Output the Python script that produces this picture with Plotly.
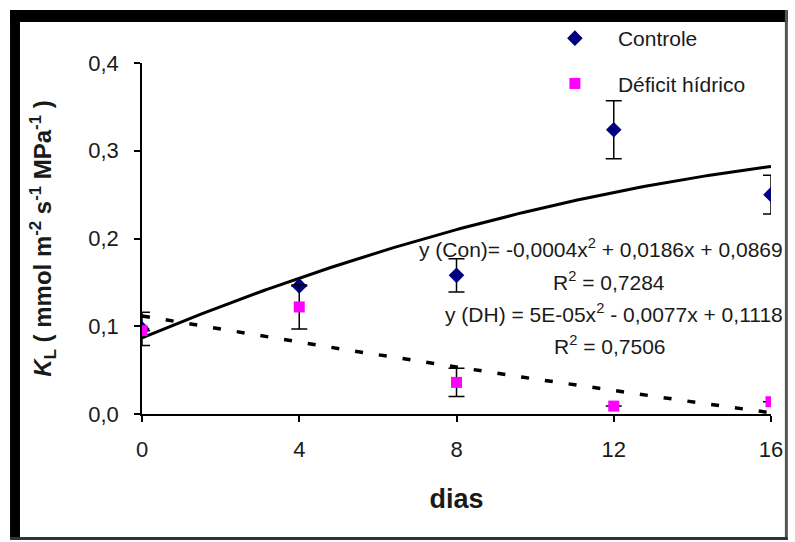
import numpy as np
import plotly.graph_objects as go

# Sampling days
dias = [0, 4, 8, 12, 16]

# Leaf hydraulic conductance, control treatment (mean and error)
kl_controle = [0.097, 0.146, 0.158, 0.324, 0.250]
err_controle = [0.019, 0.0, 0.019, 0.033, 0.022]

# Leaf hydraulic conductance, water deficit treatment (mean and error)
kl_deficit = [0.095, 0.122, 0.036, 0.009, 0.014]
err_deficit = [0.0, 0.025, 0.016, 0.0, 0.0]

# Quadratic trend coefficients (a, b, c) for y = a*x^2 + b*x + c
coef_con = [-0.0004, 0.0186, 0.0869]
coef_dh = [5e-05, -0.0077, 0.1118]

y_ticks = [0.0, 0.1, 0.2, 0.3, 0.4]
y_ticktext = ["0,0", "0,1", "0,2", "0,3", "0,4"]
x_ticks = [0, 4, 8, 12, 16]

FONT = "Liberation Sans, Arial, sans-serif"

xs = np.linspace(0, 16, 161)
trend_con = np.polyval(coef_con, xs)
trend_dh = np.polyval(coef_dh, xs)

fig = go.Figure()

# trend lines
fig.add_trace(go.Scatter(x=xs, y=trend_con, mode="lines", showlegend=False,
                         line=dict(color="black", width=3), hoverinfo="skip"))
fig.add_trace(go.Scatter(x=xs, y=trend_dh, mode="lines", showlegend=False,
                         line=dict(color="black", width=3.5, dash="8px,16px"),
                         hoverinfo="skip"))

# observations
fig.add_trace(go.Scatter(
    x=dias, y=kl_controle, mode="markers", name="Controle", legendgroup="c",
    marker=dict(symbol="diamond", size=12, color="#000080"),
    error_y=dict(type="data", array=err_controle, color="black",
                 thickness=1.5, width=8)))
fig.add_trace(go.Scatter(
    x=dias, y=kl_deficit, mode="markers", name="Déficit hídrico", legendgroup="d",
    marker=dict(symbol="square", size=11, color="#FF00FF"),
    error_y=dict(type="data", array=err_deficit, color="black",
                 thickness=1.5, width=8)))

# page geometry (pixels) for the outer frame
W, H = 795, 542
L, R, T, B = 142, 19, 63, 128
pw, ph = W - L - R, H - T - B


def px(x):
    return (x - L) / pw


def py(y):
    return (H - B - y) / ph


shapes = [
    # thick black band on the left and top
    dict(type="rect", xref="paper", yref="paper", x0=px(9), x1=px(19),
         y0=py(540), y1=py(10), fillcolor="black", line_width=0, layer="above"),
    dict(type="rect", xref="paper", yref="paper", x0=px(9), x1=px(793),
         y0=py(22), y1=py(10), fillcolor="black", line_width=0, layer="above"),
    # thin dark line right and bottom
    dict(type="rect", xref="paper", yref="paper", x0=px(790), x1=px(793),
         y0=py(540), y1=py(10), fillcolor="#555555", line_width=0, layer="above"),
    dict(type="rect", xref="paper", yref="paper", x0=px(9), x1=px(793),
         y0=py(540), y1=py(537), fillcolor="#333333", line_width=0, layer="above"),
]

eq_font = dict(family=FONT, size=21, color="#1a1a1a")
annotations = [
    dict(text="y (Con)= -0,0004x<sup>2</sup> + 0,0186x + 0,0869", x=px(790), y=py(248),
         xanchor="right", yanchor="middle"),
    dict(text="R<sup>2</sup> = 0,7284", x=px(613), y=py(281),
         xanchor="center", yanchor="middle"),
    dict(text="y (DH) = 5E-05x<sup>2</sup> - 0,0077x + 0,1118", x=px(790), y=py(313),
         xanchor="right", yanchor="middle"),
    dict(text="R<sup>2</sup> = 0,7506", x=px(614), y=py(345),
         xanchor="center", yanchor="middle"),
]
for a in annotations:
    a.update(xref="paper", yref="paper", showarrow=False, font=eq_font)

fig.update_layout(
    width=W, height=H,
    margin=dict(l=L, r=R, t=T, b=B),
    paper_bgcolor="white", plot_bgcolor="white",
    font=dict(family=FONT, size=22, color="#1a1a1a"),
    showlegend=True,
    legend=dict(x=px(535), y=py(18), xanchor="left", yanchor="top",
                bgcolor="rgba(0,0,0,0)", font=dict(family=FONT, size=21, color="#1a1a1a"),
                tracegroupgap=15, traceorder="grouped", itemwidth=76),
    shapes=shapes,
    annotations=annotations,
    xaxis=dict(range=[0, 16], tickvals=x_ticks, showgrid=False, zeroline=False,
               showline=True, linecolor="black", linewidth=1.5,
               ticks="outside", ticklen=6, tickwidth=1.5, tickcolor="black",
               ticklabelstandoff=9,
               title=dict(text="<b>dias</b>", font=dict(size=27), standoff=28)),
    yaxis=dict(range=[0, 0.4], tickvals=y_ticks, ticktext=y_ticktext, showgrid=False,
               zeroline=False, showline=True, linecolor="black", linewidth=1.5,
               ticks="outside", ticklen=6, tickwidth=1.5, tickcolor="black",
               ticklabelstandoff=11,
               title=dict(text="<b><i>K</i><sub>L</sub> ( mmol m<sup>-2</sup> s<sup>-1</sup> MPa<sup>-1</sup> )</b>",
                          font=dict(size=24), standoff=30)),
)

fig.write_html("out.html")
